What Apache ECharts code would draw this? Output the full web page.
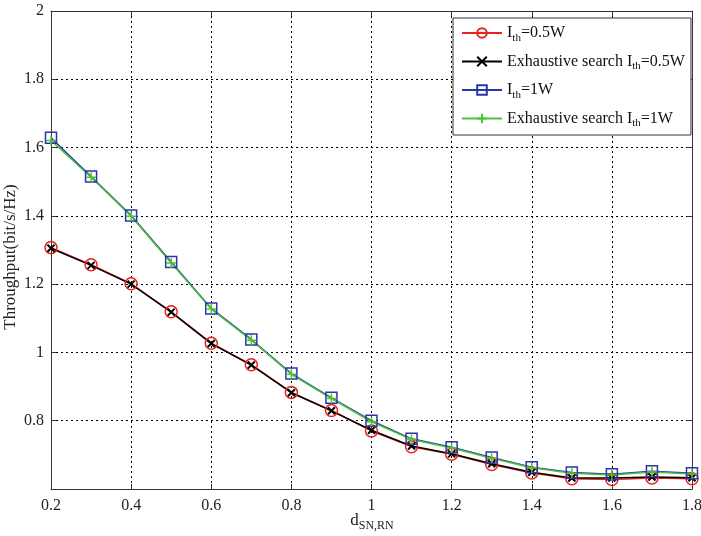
<!DOCTYPE html>
<html>
<head>
<meta charset="utf-8">
<script src="https://cdn.jsdelivr.net/npm/echarts@6/dist/echarts.min.js"></script>
<style>html,body{margin:0;padding:0;background:#fff;}#c{width:701px;height:536px;}</style>
</head>
<body>
<div id="c"></div>
<script>
const distances = [0.2,0.3,0.4,0.5,0.6,0.7,0.8,0.9,1.0,1.1,1.2,1.3,1.4,1.5,1.6,1.7,1.8];
const ith05 = [1.307,1.257,1.201,1.119,1.027,0.964,0.883,0.830,0.770,0.724,0.702,0.672,0.647,0.630,0.628,0.632,0.630];
const exh05 = [1.305,1.255,1.200,1.118,1.026,0.963,0.882,0.829,0.772,0.726,0.703,0.674,0.649,0.632,0.632,0.635,0.633];
const ith1 = [1.629,1.515,1.401,1.265,1.129,1.038,0.938,0.867,0.800,0.747,0.722,0.692,0.664,0.648,0.643,0.652,0.646];
const exh1 = [1.621,1.513,1.399,1.262,1.127,1.036,0.936,0.865,0.797,0.745,0.720,0.690,0.662,0.646,0.641,0.650,0.644];
const seriesNames = ['Ith=0.5W','Exhaustive search Ith=0.5W','Ith=1W','Exhaustive search Ith=1W'];
const legendText = {
  'Ith=0.5W': '{a|I}{s|th}{a|=0.5W}',
  'Exhaustive search Ith=0.5W': '{a|Exhaustive search I}{s|th}{a|=0.5W}',
  'Ith=1W': '{a|I}{s|th}{a|=1W}',
  'Exhaustive search Ith=1W': '{a|Exhaustive search I}{s|th}{a|=1W}'
};
const yTicks = [0.8,1,1.2,1.4,1.6,1.8,2];
const xTicks = [0.2,0.4,0.6,0.8,1,1.2,1.4,1.6,1.8];
const yTitle = 'Throughput(bit/s/Hz)';
const xTitle = '{d|d}{s|SN,RN}';

function pairs(ys){ return distances.map((x,i)=>[x, ys[i]]); }
const FONT = '"Liberation Serif", "Times New Roman", serif';
const txt = '#222';

const chart = echarts.init(document.getElementById('c'), null, {renderer:'canvas'});
const gridLine = {show:true, lineStyle:{color:'#000', type:[2,3], width:1}};
const axisLineStyle = {show:true, lineStyle:{color:'#333', width:1}};
const plusPath = 'path://M5,0L5,10M0,5L10,5';
const crossPath = 'path://M0,0L10,10M10,0L0,10';

chart.setOption({
  backgroundColor:'#fff',
  animation:false,
  grid:{left:51, right:9, top:11, bottom:47, show:false, containLabel:false, outerBoundsMode:'none'},
  graphic:[
    {type:'text', x:11, y:257, rotation:Math.PI/2,
     style:{text:yTitle, align:'center', verticalAlign:'middle', fontFamily:FONT, fontSize:17, fill:txt}},
    {type:'text', x:372, y:521,
     style:{text:xTitle, align:'center', verticalAlign:'middle',
       rich:{d:{fontFamily:FONT,fontSize:17,fill:txt}, s:{fontFamily:FONT,fontSize:12,fill:txt,padding:[10,0,0,0]}}}}
  ],
  xAxis:[{
    type:'value', min:0.2, max:1.8, interval:0.2, position:'bottom',
    axisLine:axisLineStyle, axisTick:{show:true, inside:true, length:5, lineStyle:{color:'#333'}},
    axisLabel:{color:txt, fontFamily:FONT, fontSize:16, margin:9, hideOverlap:false,
      formatter:v=>{ const r=Math.round(v*10)/10; return xTicks.some(t=>Math.abs(t-r)<1e-6) ? String(r) : ''; }},
    splitLine:gridLine
  },{
    type:'value', min:0.2, max:1.8, interval:0.2, position:'top',
    axisLine:axisLineStyle, axisTick:{show:true, inside:true, length:5, lineStyle:{color:'#333'}},
    axisLabel:{show:false}, splitLine:{show:false}
  }],
  yAxis:[{
    type:'value', min:0.6, max:2, interval:0.2, position:'left',
    axisLine:axisLineStyle, axisTick:{show:true, inside:true, length:5, lineStyle:{color:'#333'}},
    axisLabel:{color:txt, fontFamily:FONT, fontSize:16, margin:7, hideOverlap:false,
      formatter:v=>{ const r=Math.round(v*10)/10; return yTicks.some(t=>Math.abs(t-r)<1e-6) ? String(r) : ''; }},
    splitLine:gridLine
  },{
    type:'value', min:0.6, max:2, interval:0.2, position:'right',
    axisLine:axisLineStyle, axisTick:{show:true, inside:true, length:5, lineStyle:{color:'#333'}},
    axisLabel:{show:false}, splitLine:{show:false}
  }],
  legend:{
    orient:'vertical', left:453, top:18, padding:[7,6,6,8],
    itemWidth:40, itemHeight:12, itemGap:10,
    backgroundColor:'#fff', borderColor:'#333', borderWidth:1,
    data:seriesNames,
    formatter:n=>legendText[n],
    textStyle:{rich:{
      a:{fontFamily:FONT, fontSize:16, color:'#111'},
      s:{fontFamily:FONT, fontSize:11, color:'#111', padding:[10,0,0,0]}
    }}
  },
  series:[
    {name:seriesNames[0], type:'line', data:pairs(ith05), symbol:'circle', symbolSize:12,
     lineStyle:{color:'#e8231f', width:1.5}, itemStyle:{color:'rgba(0,0,0,0)', borderColor:'#e8231f', borderWidth:1.5}},
    {name:seriesNames[1], type:'line', data:pairs(exh05), symbol:crossPath, symbolSize:7,
     lineStyle:{color:'#000', width:1.5}, itemStyle:{color:'rgba(0,0,0,0)', borderColor:'#000', borderWidth:2}},
    {name:seriesNames[2], type:'line', data:pairs(ith1), symbol:'rect', symbolSize:11,
     lineStyle:{color:'#2a35a8', width:1.5}, itemStyle:{color:'rgba(0,0,0,0)', borderColor:'#2a35a8', borderWidth:1.5}},
    {name:seriesNames[3], type:'line', data:pairs(exh1), symbol:plusPath, symbolSize:10,
     lineStyle:{color:'#4cc23a', width:1.5}, itemStyle:{color:'rgba(0,0,0,0)', borderColor:'#4cc23a', borderWidth:1.5}}
  ]
});
</script>
</body>
</html>
